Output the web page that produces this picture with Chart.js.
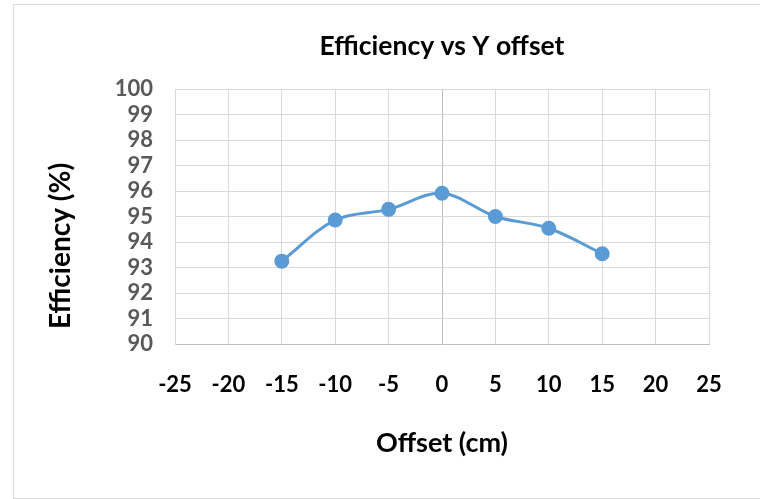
<!DOCTYPE html>
<html>
<head>
<meta charset="utf-8">
<script src="https://cdn.jsdelivr.net/npm/chart.js@4"></script>
<style>
  body { margin: 0; background: #fff; }
  #wrap { position: relative; width: 760px; height: 499px; overflow: hidden; }
  #frame { position: absolute; left: 13px; top: 4px; width: 800px; height: 493px; border: 1px solid #d9d9d9; }
  #chart { position: absolute; left: 0; top: 0; }
</style>
</head>
<body>
<div id="wrap">
  <div id="frame"></div>
  <canvas id="chart" width="760" height="499"></canvas>
</div>
<script>
const offsets = [-15, -10, -5, 0, 5, 10, 15];
const efficiency = [93.25, 94.86, 95.28, 95.91, 95.0, 94.54, 93.54];
const xTicks = [-25, -20, -15, -10, -5, 0, 5, 10, 15, 20, 25];
const yTicks = [90, 91, 92, 93, 94, 95, 96, 97, 98, 99, 100];

const FONT = 'Lato, "Open Sans", sans-serif';

/* y axis title, drawn a little below the plot centre like the original */
const yTitle = {
  id: 'yTitle',
  afterDraw(chart) {
    const ctx = chart.ctx;
    ctx.save();
    ctx.translate(61, 246);
    ctx.rotate(-Math.PI / 2);
    ctx.font = 'bold 28px ' + FONT;
    ctx.fillStyle = '#000';
    ctx.textAlign = 'center';
    ctx.textBaseline = 'middle';
    ctx.fillText('Efficiency (%)', 0, 0);
    ctx.restore();
  }
};

new Chart(document.getElementById('chart'), {
  type: 'line',
  data: {
    datasets: [{
      data: offsets.map((x, i) => ({ x, y: efficiency[i] })),
      borderColor: '#5b9bd5',
      backgroundColor: '#5b9bd5',
      borderWidth: 3,
      pointRadius: 6,
      pointHoverRadius: 6,
      tension: 0.35
    }]
  },
  options: {
    responsive: false,
    animation: false,
    layout: { padding: { left: 0, right: 51, top: 0, bottom: 0 } },
    plugins: {
      legend: { display: false },
      tooltip: { enabled: false },
      title: {
        display: true,
        fullSize: false, // centre over the plot area, not the canvas
        text: 'Efficiency vs Y offset',
        color: '#000',
        font: { family: FONT, size: 26.5, weight: 'bold', lineHeight: 1.2 },
        padding: { top: 31, bottom: 26.2 }
      }
    },
    scales: {
      x: {
        type: 'linear',
        min: xTicks[0],
        max: xTicks[xTicks.length - 1],
        afterBuildTicks: s => { s.ticks = xTicks.map(v => ({ value: v })); },
        afterFit: s => { s.height = 155; },
        grid: {
          color: c => (c.tick && c.tick.value === 0 ? '#bfbfbf' : '#d9d9d9'),
          lineWidth: 1,
          drawTicks: false
        },
        border: { color: '#bfbfbf', width: 1 },
        ticks: {
          padding: 28,
          autoSkip: false,
          color: '#000',
          font: { family: FONT, size: 22, weight: 'bold' },
          maxRotation: 0
        },
        title: {
          display: true,
          text: 'Offset (cm)',
          color: '#000',
          font: { family: FONT, size: 27, weight: 'bold', lineHeight: 1.2 },
          padding: { top: 0, bottom: 40 }
        }
      },
      y: {
        min: yTicks[0],
        max: yTicks[yTicks.length - 1],
        afterBuildTicks: s => { s.ticks = yTicks.map(v => ({ value: v })); },
        afterFit: s => { s.width = 175; },
        grid: { color: '#d9d9d9', lineWidth: 1, drawTicks: false },
        border: { color: '#d9d9d9', width: 1 },
        ticks: {
          padding: 22,
          autoSkip: false,
          color: '#595959',
          font: { family: FONT, size: 22, weight: 'bold' }
        }
      }
    }
  },
  plugins: [yTitle]
});
</script>
</body>
</html>
